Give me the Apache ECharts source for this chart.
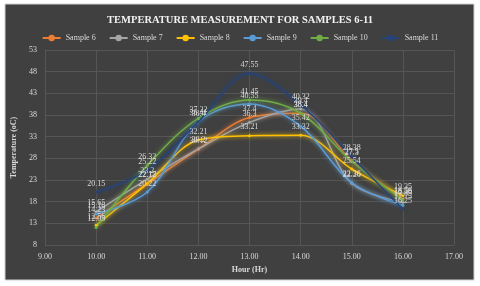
<!DOCTYPE html>
<html><head><meta charset="utf-8">
<script src="https://cdn.jsdelivr.net/npm/echarts@6/dist/echarts.min.js"></script>
<style>html,body{margin:0;padding:0;background:#fff}#c{width:480px;height:286px}</style>
</head><body><div id="c"></div>
<script>
const hours = [10, 11, 12, 13, 14, 15, 16];
const seriesNames = ['Sample 6', 'Sample 7', 'Sample 8', 'Sample 9', 'Sample 10', 'Sample 11'];
const sample6 = [14.23, 22.12, 30.12, 37.4, 38.4, 27.5, 18.56];
const sample7 = [15.65, 23.2, 30.2, 36.3, 39.4, 22.26, 17.85];
const sample8 = [12.56, 22.17, 32.21, 33.21, 33.32, 25.54, 19.35];
const sample9 = [15.16, 20.22, 36.4, 40.55, 35.42, 22.36, 17.15];
const sample10 = [12.05, 26.32, 37.22, 41.45, 38.4, 27.3, 18.38];
const sample11 = [20.15, 25.22, 36.41, 47.55, 40.32, 28.38, 16.25];
const colors = ['#ED7D31', '#A5A5A5', '#FFC000', '#5B9BD5', '#70AD47', '#264478'];
const allData = [sample6, sample7, sample8, sample9, sample10, sample11];
const serif = '"Liberation Serif", "DejaVu Serif", serif';

const chart = echarts.init(document.getElementById('c'));
chart.setOption({
  backgroundColor: 'transparent',
  animation: false,
  graphic: [{type:'rect', shape:{x:5,y:4,width:469,height:276}, style:{fill:'#404040', stroke:'#d0d0d0', lineWidth:1}, z:-100, silent:true}],
  title: {text: 'TEMPERATURE MEASUREMENT FOR SAMPLES 6-11', left: 'center', top: 10,
    textStyle: {color: '#f2f2f2', fontFamily: serif, fontWeight: 'bold', fontSize: 10.5}},
  legend: {top: 29, left: 'center', itemWidth: 18, itemHeight: 8, itemGap: 13,
    data: seriesNames,
    textStyle: {color: '#d9d9d9', fontFamily: serif, fontSize: 8}},
  grid: {left: 45, right: 26, top: 50, bottom: 41},
  xAxis: {type: 'value', min: 9, max: 17, interval: 1,
    name: 'Hour (Hr)', nameLocation: 'middle', nameGap: 19,
    nameTextStyle: {color: '#d9d9d9', fontFamily: serif, fontWeight: 'bold', fontSize: 8},
    axisLine: {show: false}, axisTick: {show: false},
    axisLabel: {color: '#d9d9d9', fontFamily: serif, fontSize: 8, margin: 8, formatter: v => v.toFixed(2)},
    splitLine: {show: true, lineStyle: {color: '#5a5a5a', width: 0.8}}},
  yAxis: {type: 'value', min: 8, max: 53, interval: 5,
    name: 'Temperature (oC)', nameLocation: 'middle', nameGap: 21, nameRotate: 90,
    nameTextStyle: {color: '#d9d9d9', fontFamily: serif, fontWeight: 'bold', fontSize: 8},
    axisLine: {show: false}, axisTick: {show: false},
    axisLabel: {color: '#d9d9d9', fontFamily: serif, fontSize: 8, margin: 8},
    splitLine: {show: true, lineStyle: {color: '#5a5a5a', width: 0.8}}},
  series: seriesNames.map((n, i) => ({
    name: n, type: 'line', smooth: 0.35,
    data: hours.map((h, j) => [h, allData[i][j]]),
    symbol: 'circle', symbolSize: 3,
    itemStyle: {color: colors[i]},
    lineStyle: {width: 1.5, color: colors[i], shadowColor: colors[i], shadowBlur: 4},
    label: {show: true, position: 'top', distance: 3, color: '#d9d9d9', fontFamily: serif, fontSize: 8,
      formatter: p => String(p.value[1])}
  }))
});
</script></body></html>
